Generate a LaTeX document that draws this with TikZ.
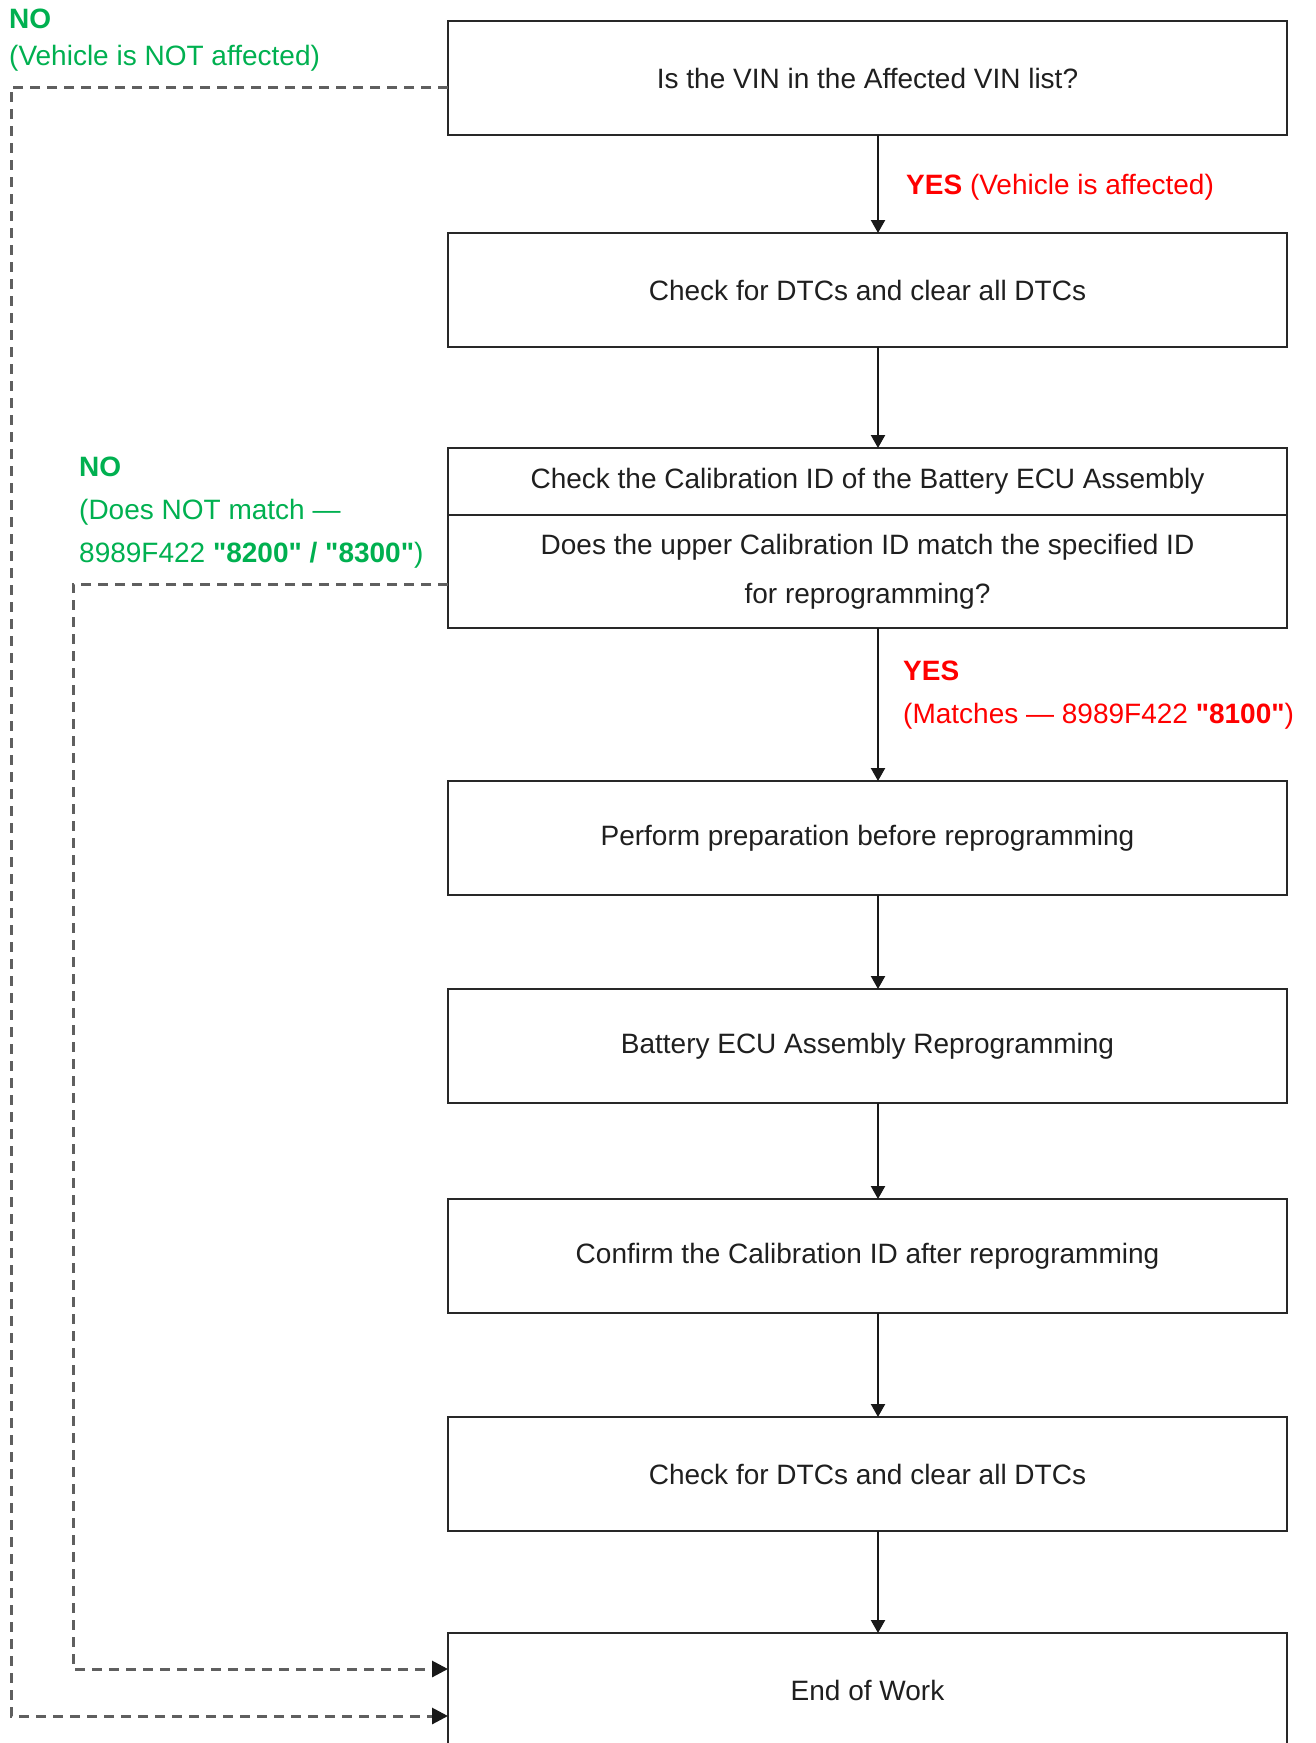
\documentclass[tikz,border=0pt]{standalone}
\usepackage{fontspec}
\setmainfont{Liberation Sans}
\usetikzlibrary{positioning, arrows.meta}

\definecolor{yesred}{RGB}{255,0,0}
\definecolor{nogreen}{RGB}{0,176,80}
\definecolor{boxline}{RGB}{40,40,40}
\definecolor{dashgray}{RGB}{95,95,95}

\newcommand{\idq}[1]{\textquotedbl#1\textquotedbl}

\begin{document}
\begin{tikzpicture}[
        x=1pt, y=1pt,
        % Stili globali
        every node/.style={font=\fontsize{28}{43}\selectfont},
        stepbox/.style={draw=boxline, line width=2.2pt, outer sep=0pt, inner sep=0pt,
            minimum width=839pt, minimum height=114pt, text=black!88},
        flow/.style={-{Triangle[length=13pt,width=14pt]}, line width=2.2pt, draw=black!90},
        skip/.style={-{Triangle[length=16pt,width=16pt,color=black!90]}, line width=3pt,
            draw=dashgray, dash pattern=on 10pt off 7pt},
        yeslabel/.style={text=yesred, anchor=north west, inner sep=0pt, align=left},
        nolabel/.style={text=nogreen, anchor=north west, inner sep=0pt, align=left}
    ]
    \useasboundingbox (0,0) rectangle (1315,-1743);
    \clip (0,0) rectangle (1315,-1743);

    % Passi del flusso
    \node[stepbox] (vin) at (867.5,-78) {Is the VIN in the Affected VIN list?};
    \node[stepbox, below=98pt of vin] (dtc1) {Check for DTCs and clear all DTCs};
    \node[stepbox, minimum height=67pt, below=101pt of dtc1] (calid)
        {Check the Calibration ID of the Battery ECU Assembly};
    \node[stepbox, minimum height=113pt, below=0pt of calid, align=center,
        font=\fontsize{28}{49}\selectfont] (match)
        {Does the upper Calibration ID match the specified ID\\for reprogramming?};
    \node[stepbox, below=153pt of match] (prep) {Perform preparation before reprogramming};
    \node[stepbox, below=94pt of prep] (reprog) {Battery ECU Assembly Reprogramming};
    \node[stepbox, below=96pt of reprog] (confirm) {Confirm the Calibration ID after reprogramming};
    \node[stepbox, below=104pt of confirm] (dtc2) {Check for DTCs and clear all DTCs};
    \node[stepbox, below=102pt of dtc2] (endw) {End of Work};

    % Frecce principali
    \draw[flow] ([xshift=10.5pt]vin.south) -- ([xshift=10.5pt]dtc1.north);
    \draw[flow] ([xshift=10.5pt]dtc1.south) -- ([xshift=10.5pt]calid.north);
    \draw[flow] ([xshift=10.5pt]match.south) -- ([xshift=10.5pt]prep.north);
    \draw[flow] ([xshift=10.5pt]prep.south) -- ([xshift=10.5pt]reprog.north);
    \draw[flow] ([xshift=10.5pt]reprog.south) -- ([xshift=10.5pt]confirm.north);
    \draw[flow] ([xshift=10.5pt]confirm.south) -- ([xshift=10.5pt]dtc2.north);
    \draw[flow] ([xshift=10.5pt]dtc2.south) -- ([xshift=10.5pt]endw.north);

    % Percorsi NO tratteggiati
    \draw[skip] ([yshift=-9pt]vin.west) -- ++(-437pt,0) |- ([yshift=-26pt]endw.west);
    \draw[skip] ([yshift=-12.5pt]match.west) -- ++(-375pt,0) |- ([yshift=21pt]endw.west);

    % Etichette
    \node[nolabel, font=\fontsize{28}{37}\selectfont] (novin) at (9,-9)
        {\textbf{NO}\\(Vehicle is NOT affected)};
    \node[nolabel] (nomatch) at (79,-457)
        {\textbf{NO}\\(Does NOT match ---\\8989F422 \textbf{\idq{8200} / \idq{8300}})};
    \node[yeslabel] (yesvin) at (906,-174) {\textbf{YES} (Vehicle is affected)};
    \node[yeslabel] (yesmatch) at (903,-661)
        {\textbf{YES}\\(Matches --- 8989F422 \textbf{\idq{8100}})};
\end{tikzpicture}
\end{document}
